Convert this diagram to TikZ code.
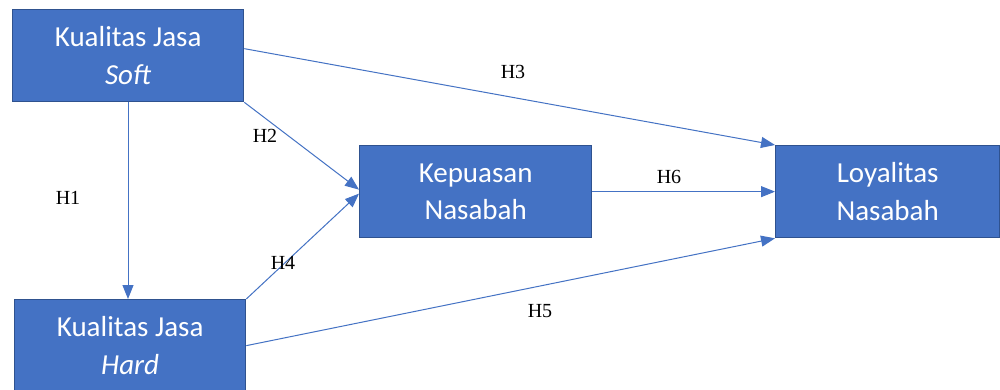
\documentclass[tikz,border=0pt]{standalone}
\usepackage{fontspec}
\setmainfont{Liberation Serif}
\newfontfamily\boxfont{Carlito}
\usetikzlibrary{arrows.meta}
\definecolor{boxfill}{HTML}{4472C4}
\definecolor{boxline}{HTML}{2F528F}
\definecolor{linkcol}{HTML}{4472C4}
\tikzset{
  varbox/.style={draw=boxline, line width=1.3pt, fill=boxfill, text=white,
    align=center, inner sep=0pt, anchor=north west,
    font=\boxfont\fontsize{29}{37.5}\selectfont},
  link/.style={draw=linkcol, line width=1pt,
    -{Triangle[length=14pt,width=11pt]}},
  hlabel/.style={font=\fontsize{20}{23}\selectfont, text=black, inner sep=0pt}
}
\begin{document}
\begin{tikzpicture}[x=1pt,y=-1pt]
\useasboundingbox (0,0) rectangle (1000,390);
\clip (0,0) rectangle (1000,390);
\fill[white] (0,0) rectangle (1000,390);

% variable boxes
\node[varbox, minimum width=231pt, minimum height=92pt] (soft) at (12,9)
  {Kualitas Jasa\\\textit{Soft}};
\node[varbox, minimum width=231pt, minimum height=92pt] (hard) at (14,299)
  {Kualitas Jasa\\\textit{Hard}};
\node[varbox, minimum width=232pt, minimum height=92pt] (kep) at (359,145)
  {Kepuasan\\Nasabah};
\node[varbox, minimum width=224pt, minimum height=92pt] (loy) at (775,145)
  {Loyalitas\\Nasabah};

% hypothesised paths
\draw[link] (soft.south -| 128,0) -- (hard.north -| 128,0);
\draw[link] (soft.south east) -- ([yshift=2pt]kep.west);
\draw[link] (hard.north east) -- ([yshift=-2pt]kep.west);
\draw[link] ([yshift=7pt]soft.east) -- (loy.north west);
\draw[link] (kep.east) -- (kep.east -| loy.west);
\draw[link] (hard.east) -- (loy.south west);

% path labels
\node[hlabel] (h1) at (68,198) {H1};
\node[hlabel] (h2) at (265,136) {H2};
\node[hlabel] (h3) at (513,72) {H3};
\node[hlabel] (h4) at (283,263) {H4};
\node[hlabel] (h5) at (540,311) {H5};
\node[hlabel] (h6) at (669,177) {H6};
\end{tikzpicture}
\end{document}
